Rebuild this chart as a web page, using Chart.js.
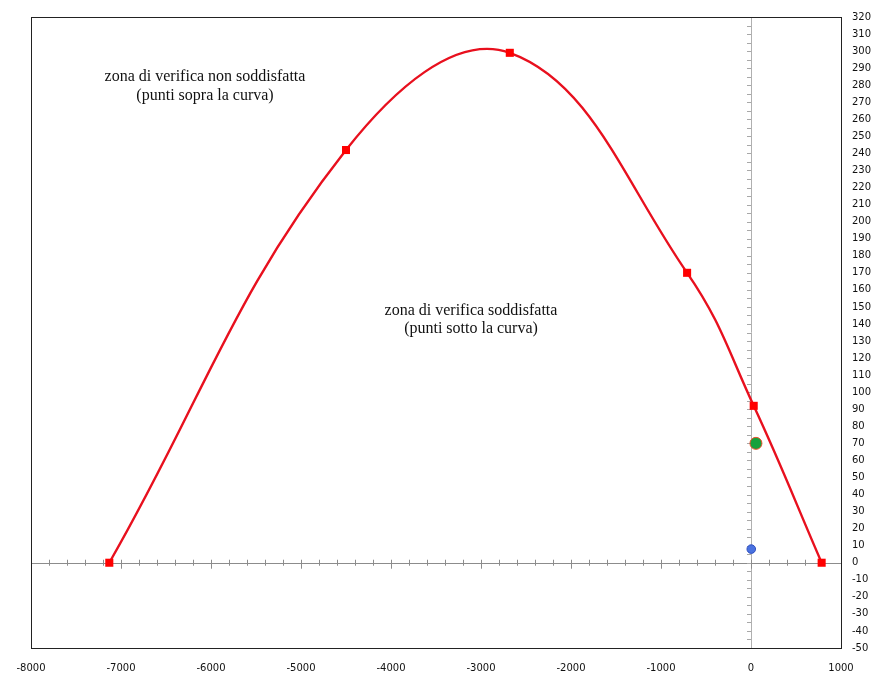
<!DOCTYPE html>
<html>
<head>
<meta charset="utf-8">
<script src="https://cdn.jsdelivr.net/npm/chart.js@4/dist/chart.umd.min.js"></script>
<style>
html,body{margin:0;padding:0;background:#fff;}
#wrap{width:884px;height:675px;position:relative;}
</style>
</head>
<body>
<div id="wrap"><canvas id="c" width="884" height="675"></canvas></div>
<script>
// Data
const curveX = [-7130, -4500, -2680, -710, 30, 785];
const curveY = [0, 242, 299, 170, 92, 0];
const greenX = [55];
const greenY = [70];
const blueX = [3];
const blueY = [8];
const xTickStep = 1000;
const yTickStep = 10;
const xRange = [-8000, 1000];
const yRange = [-50, 320];
const noteTop = ["zona di verifica non soddisfatta", "(punti sopra la curva)"];
const noteMid = ["zona di verifica soddisfatta", "(punti sotto la curva)"];

const toPts = (xs, ys) => xs.map((x, i) => ({x: x, y: ys[i]}));

const framePlugin = {
  id: 'frame',
  beforeDatasetsDraw(chart) {
    const {ctx, chartArea: a, scales: {x, y}} = chart;
    ctx.save();
    const y0 = y.getPixelForValue(0);
    const x0 = x.getPixelForValue(0);
    ctx.strokeStyle = '#8c8c8c';
    ctx.lineWidth = 1;
    ctx.beginPath();
    ctx.moveTo(a.left, Math.round(y0) + 0.5);
    ctx.lineTo(a.right, Math.round(y0) + 0.5);
    ctx.stroke();
    ctx.strokeStyle = '#b0b0b0';
    ctx.beginPath();
    ctx.moveTo(Math.round(x0) + 0.5, a.top);
    ctx.lineTo(Math.round(x0) + 0.5, a.bottom);
    ctx.stroke();
    ctx.strokeStyle = '#8c8c8c';
    for (let v = xRange[0] + 200; v < xRange[1]; v += 200) {
      const px = Math.round(x.getPixelForValue(v)) + 0.5;
      const major = v % 1000 === 0;
      ctx.beginPath();
      ctx.moveTo(px, y0 - 3);
      ctx.lineTo(px, y0 + (major ? 6 : 3));
      ctx.stroke();
    }
    ctx.strokeStyle = '#a8a8a8';
    for (let v = yRange[0] + 5; v < yRange[1]; v += 5) {
      const py = Math.round(y.getPixelForValue(v)) + 0.5;
      ctx.beginPath();
      ctx.moveTo(x0 - 4, py);
      ctx.lineTo(x0, py);
      ctx.stroke();
    }
    ctx.strokeStyle = '#222';
    ctx.lineWidth = 1;
    ctx.strokeRect(Math.round(a.left) + 0.5, Math.round(a.top) + 0.5,
      Math.round(a.right - a.left), Math.round(a.bottom - a.top));
    ctx.fillStyle = '#111';
    ctx.font = '16px "Liberation Serif", "DejaVu Serif", serif';
    ctx.textAlign = 'center';
    ctx.textBaseline = 'middle';
    ctx.fillText(noteTop[0], 205, 77);
    ctx.fillText(noteTop[1], 205, 96);
    ctx.fillText(noteMid[0], 471, 311);
    ctx.fillText(noteMid[1], 471, 329);
    ctx.restore();
  }
};

new Chart(document.getElementById('c'), {
  type: 'scatter',
  data: {
    datasets: [
      {
        data: toPts(curveX, curveY),
        showLine: true,
        borderColor: '#e8101e',
        borderWidth: 2.4,
        tension: 0.4,
        pointStyle: 'rect',
        pointRadius: 5.7,
        pointBackgroundColor: '#ff0000',
        pointBorderColor: '#ff0000',
        pointBorderWidth: 0,
        order: 2
      },
      {
        data: toPts(greenX, greenY),
        pointRadius: 6,
        pointBackgroundColor: '#16a13c',
        pointBorderColor: '#e8502a',
        pointBorderWidth: 1,
        order: 1
      },
      {
        data: toPts(blueX, blueY),
        pointRadius: 4.3,
        pointBackgroundColor: '#4a72e0',
        pointBorderColor: '#3050c0',
        pointBorderWidth: 1,
        order: 1
      }
    ]
  },
  options: {
    responsive: false,
    animation: false,
    layout: {padding: {left: 31, top: 15, right: 0, bottom: 0}},
    plugins: {legend: {display: false}, tooltip: {enabled: false}},
    scales: {
      x: {
        type: 'linear',
        min: xRange[0], max: xRange[1],
        grid: {display: false, drawTicks: false},
        border: {display: false},
        ticks: {
          stepSize: xTickStep, autoSkip: false, maxRotation: 0, padding: 14,
          color: '#111', font: {family: '"DejaVu Sans", sans-serif', size: 10},
          callback: (v) => String(v)
        },
        afterFit(s) { s.height = 27; }
      },
      y: {
        type: 'linear',
        position: 'right',
        min: yRange[0], max: yRange[1],
        grid: {display: false, drawTicks: false},
        border: {display: false},
        ticks: {
          stepSize: yTickStep, autoSkip: false, padding: 11, crossAlign: 'near',
          color: '#111', font: {family: '"DejaVu Sans", sans-serif', size: 10},
          callback: (v) => String(v)
        },
        afterFit(s) { s.width = 43; }
      }
    }
  },
  plugins: [framePlugin]
});
</script>
</body>
</html>
